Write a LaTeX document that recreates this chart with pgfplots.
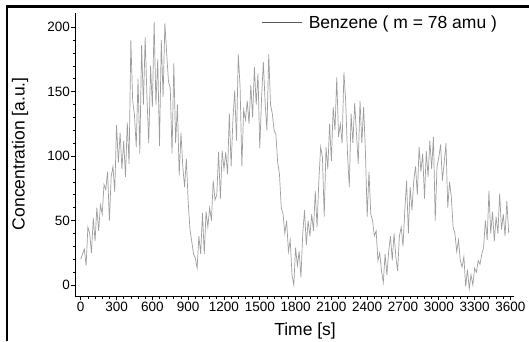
\documentclass[border=0pt]{standalone}
\usepackage{pgfplots}
\pgfplotsset{compat=1.18}
\usepackage{fontspec}
\setmainfont{Liberation Sans}
\begin{document}
\begin{tikzpicture}
\useasboundingbox (0pt,0pt) rectangle (529pt,-341pt);
\draw[line width=2.5pt] (7.2pt,-341pt) -- (7.2pt,-6.5pt) -- (529pt,-6.5pt);
\begin{axis}[
  at={(75pt,-296pt)}, anchor=south west,
  scale only axis, width=439pt, height=283pt,
  xmin=-48, xmax=3630, ymin=-8.5, ymax=211,
  axis lines=left, axis line style={-, line width=0.8pt},
  tick align=outside,
  major tick length=4pt, minor tick length=2.5pt,
  every tick/.style={black, line width=0.7pt},
  xtick={0,300,...,3600}, minor x tick num=4,
  ytick={0,50,...,200}, minor y tick num=4,
  /pgf/number format/assume math mode=true,
  /pgf/number format/set thousands separator={},
  ticklabel style={font=\fontsize{13.5}{15}\selectfont},
  yticklabel style={inner sep=1pt},
  xticklabel style={inner sep=1.5pt},
  xlabel={Time [s]},
  ylabel={Concentration [a.u.]},
  label style={font=\fontsize{17.5}{20}\selectfont},
  xlabel style={at={(axis description cs:0.524,-0.124)}, anchor=center},
  ylabel style={at={(axis description cs:-0.125,0.503)}, anchor=center},
  legend style={draw=none, fill=none, at={(0.425,0.966)}, anchor=west,
    inner sep=0pt, font=\fontsize{17.5}{20}\selectfont,
    /tikz/every odd column/.append style={column sep=4pt}},
  legend image code/.code={\draw[black!65, line width=1pt] (0pt,0pt) -- (40pt,0pt);},
]
\addplot[black!38, line width=0.7pt] coordinates {
(0,20) (15,24) (30,28) (45,15) (60,45) (75,40) (90,25) (105,52) (120,34) (135,60)
(150,42) (165,62) (180,55) (195,78) (210,74) (225,88) (240,50) (255,84) (270,92) (285,72)
(300,124) (315,95) (330,118) (345,90) (360,112) (375,84) (390,126) (405,94) (420,190) (435,143)
(450,132) (465,107) (480,160) (495,102) (510,186) (525,140) (540,192) (555,145) (570,110) (585,170)
(600,138) (615,204) (630,140) (645,175) (660,108) (675,190) (690,146) (705,203) (720,180) (735,158)
(750,153) (765,102) (780,172) (795,110) (810,140) (825,85) (840,118) (855,92) (870,76) (885,98)
(900,65) (915,43) (930,34) (945,24) (960,21) (975,13) (990,38) (1005,24) (1020,56) (1035,24)
(1050,57) (1065,45) (1080,60) (1095,50) (1110,81) (1125,66) (1140,70) (1155,103) (1170,67) (1185,104)
(1200,90) (1215,103) (1230,86) (1245,133) (1260,92) (1275,128) (1290,151) (1305,112) (1320,179) (1335,154)
(1350,92) (1365,136) (1380,128) (1395,143) (1410,125) (1425,155) (1440,130) (1455,169) (1470,140) (1485,164)
(1500,106) (1515,145) (1530,173) (1545,141) (1560,120) (1575,179) (1590,140) (1605,133) (1620,120) (1635,117)
(1650,95) (1665,86) (1680,60) (1695,55) (1710,40) (1725,50) (1740,26) (1755,35) (1770,8) (1785,0)
(1800,29) (1815,15) (1830,26) (1845,6) (1860,40) (1875,58) (1890,31) (1905,50) (1920,38) (1935,55)
(1950,42) (1965,73) (1980,45) (1995,81) (2010,107) (2025,99) (2040,53) (2055,107) (2070,90) (2085,125)
(2100,96) (2115,138) (2130,120) (2145,161) (2160,115) (2175,125) (2190,110) (2205,165) (2220,142) (2235,102)
(2250,76) (2265,133) (2280,110) (2295,141) (2310,118) (2325,94) (2340,143) (2355,110) (2370,138) (2385,104)
(2400,53) (2415,88) (2430,55) (2445,50) (2460,38) (2475,42) (2490,19) (2505,25) (2520,11) (2535,2)
(2550,24) (2565,8) (2580,26) (2595,38) (2610,19) (2625,40) (2640,22) (2655,11) (2670,38) (2685,45)
(2700,30) (2715,58) (2730,81) (2745,40) (2760,76) (2775,58) (2790,81) (2805,92) (2820,70) (2835,107)
(2850,88) (2865,102) (2880,67) (2895,104) (2910,84) (2925,112) (2940,90) (2955,115) (2970,50) (2985,92)
(3000,99) (3015,109) (3030,81) (3045,95) (3060,110) (3075,60) (3090,80) (3105,68) (3120,45) (3135,40)
(3150,26) (3165,35) (3180,19) (3195,14) (3210,22) (3225,-1) (3240,12) (3255,-3) (3270,8) (3285,0)
(3300,13) (3315,10) (3330,19) (3345,16) (3360,24) (3375,29) (3390,50) (3405,35) (3420,73) (3435,40)
(3450,57) (3465,34) (3480,53) (3495,40) (3510,71) (3525,43) (3540,55) (3555,38) (3570,65) (3585,41)
(3590,42)
};
\addlegendentry{Benzene ( m = 78 amu )}
\end{axis}
\end{tikzpicture}
\end{document}
